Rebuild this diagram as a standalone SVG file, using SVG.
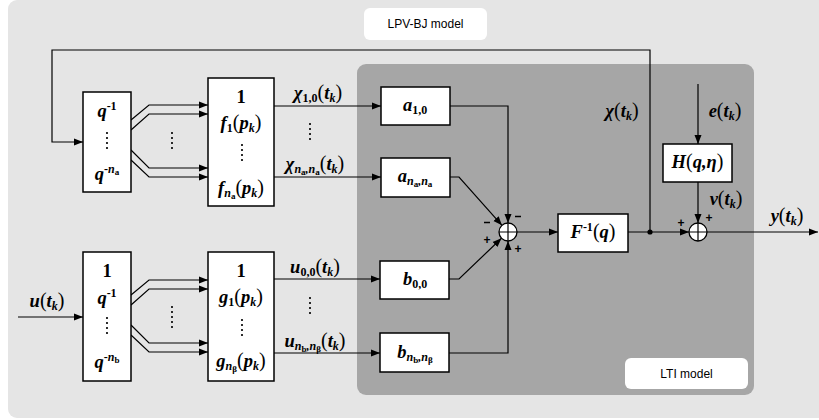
<svg xmlns="http://www.w3.org/2000/svg" width="819" height="420" viewBox="0 0 819 420">
<style>
.m{font-family:"Liberation Serif","DejaVu Serif",serif;font-style:italic;font-weight:bold;font-size:18.5px;fill:#000}
.u{font-style:normal}
.p{font-style:normal;font-weight:normal;font-size:20px}
.sn{font-style:normal;font-size:12px}
.si{font-style:italic;font-size:12px}
.ss{font-style:normal;font-size:9px}
.lab{font-family:"Liberation Sans",Arial,sans-serif;font-size:12px;fill:#000}
.sg{font-family:"Liberation Sans",Arial,sans-serif;font-weight:bold;font-size:12px;fill:#000}
.box{fill:#fff;stroke:#000;stroke-width:1.5}
.c{fill:none;stroke:#000;stroke-width:1.2}
.dots{fill:none;stroke:#000;stroke-width:2.2;stroke-linecap:round;stroke-dasharray:0 5}
</style>
<defs>
<marker id="ar" markerUnits="userSpaceOnUse" markerWidth="10" markerHeight="8" refX="9" refY="4" orient="auto">
<path d="M0,0.5 L9,4 L0,7.5 Z" fill="#000"/>
</marker>
</defs>
<rect x="8" y="0" width="830" height="418" rx="9" fill="#e5e5e5"/>
<rect x="357" y="64" width="397" height="331" rx="9" fill="#a6a6a6"/>
<g id="lpv-label"><rect x="364" y="8" width="123" height="32" rx="6" fill="#fff"/><text class="lab" x="425.5" y="28" text-anchor="middle">LPV-BJ model</text></g>
<g id="lti-label"><rect x="625" y="358" width="123" height="31" rx="6" fill="#fff"/><text class="lab" x="686.5" y="378" text-anchor="middle">LTI model</text></g>

<g id="connectors">
<path class="c" d="M650,232 V50 H52 V142 H83" marker-end="url(#ar)"/>
<path class="c" d="M18,317 H83" marker-end="url(#ar)"/>
<path class="c" d="M131,120 L149,105 H208" marker-end="url(#ar)"/>
<path class="c" d="M131,130 L149,114 H208" marker-end="url(#ar)"/>
<path class="c" d="M131,150 L149,168 H208" marker-end="url(#ar)"/>
<path class="c" d="M131,160 L149,177 H208" marker-end="url(#ar)"/>
<path class="c" d="M131,295 L149,280 H208" marker-end="url(#ar)"/>
<path class="c" d="M131,305 L149,289 H208" marker-end="url(#ar)"/>
<path class="c" d="M131,325 L149,343 H208" marker-end="url(#ar)"/>
<path class="c" d="M131,335 L149,352 H208" marker-end="url(#ar)"/>
<path class="c" d="M274,106 H381" marker-end="url(#ar)"/>
<path class="c" d="M274,177 H381" marker-end="url(#ar)"/>
<path class="c" d="M274,279 H380" marker-end="url(#ar)"/>
<path class="c" d="M274,353 H380" marker-end="url(#ar)"/>
<path class="c" d="M450,106 H508 V223" marker-end="url(#ar)"/>
<path class="c" d="M450,177 H459 L502,225.3" marker-end="url(#ar)"/>
<path class="c" d="M449,279 H459 L501.5,238.2" marker-end="url(#ar)"/>
<path class="c" d="M449,353 H508 V241" marker-end="url(#ar)"/>
<path class="c" d="M517,232 H558" marker-end="url(#ar)"/>
<path class="c" d="M628,232 H689" marker-end="url(#ar)"/>
<path class="c" d="M698,84 V144" marker-end="url(#ar)"/>
<path class="c" d="M698,182 V223" marker-end="url(#ar)"/>
<path class="c" d="M707,232 H818" marker-end="url(#ar)"/>
<circle cx="650" cy="232" r="2.6" fill="#000"/>
<path class="dots" d="M172,133 V153 M172,307 V328 M310,124 V144 M310,298 V318"/>
</g>

<g id="qa">
<rect class="box" x="83" y="92" width="48" height="100"/>
<text class="m" x="107" y="117" text-anchor="middle">q<tspan class="sn" dy="-7">-1</tspan></text>
<path class="dots" d="M107,133 V153"/>
<text class="m" x="107" y="180" text-anchor="middle">q<tspan class="sn" dy="-7">-</tspan><tspan class="si">n</tspan><tspan class="ss" dy="2">a</tspan></text>
</g>

<g id="f">
<rect class="box" x="208" y="78" width="66" height="128"/>
<text class="m u" x="241" y="103" text-anchor="middle">1</text>
<text class="m" x="241" y="129" text-anchor="middle">f<tspan class="sn" dy="3">1</tspan><tspan class="p" dy="-3">(</tspan>p<tspan class="si" dy="3">k</tspan><tspan class="p" dy="-3">)</tspan></text>
<path class="dots" d="M242,145 V165"/>
<text class="m" x="241" y="194" text-anchor="middle">f<tspan class="si" dy="3">n</tspan><tspan class="ss" dy="2">a</tspan><tspan class="p" dy="-5">(</tspan>p<tspan class="si" dy="3">k</tspan><tspan class="p" dy="-3">)</tspan></text>
</g>

<g id="qb">
<rect class="box" x="83" y="252" width="48" height="129"/>
<text class="m u" x="107" y="277" text-anchor="middle">1</text>
<text class="m" x="107" y="304" text-anchor="middle">q<tspan class="sn" dy="-7">-1</tspan></text>
<path class="dots" d="M107,318 V338"/>
<text class="m" x="107" y="368" text-anchor="middle">q<tspan class="sn" dy="-7">-</tspan><tspan class="si">n</tspan><tspan class="ss" dy="2">b</tspan></text>
</g>

<g id="g">
<rect class="box" x="208" y="252" width="66" height="129"/>
<text class="m u" x="241" y="277" text-anchor="middle">1</text>
<text class="m" x="241" y="303" text-anchor="middle">g<tspan class="sn" dy="3">1</tspan><tspan class="p" dy="-3">(</tspan>p<tspan class="si" dy="3">k</tspan><tspan class="p" dy="-3">)</tspan></text>
<path class="dots" d="M242,320 V340"/>
<text class="m" x="241" y="367" text-anchor="middle">g<tspan class="si" dy="3">n</tspan><tspan class="ss" dy="2">β</tspan><tspan class="p" dy="-5">(</tspan>p<tspan class="si" dy="3">k</tspan><tspan class="p" dy="-3">)</tspan></text>
</g>

<g id="signal-labels">
<text class="m" x="318" y="99" text-anchor="middle">χ<tspan class="sn" dy="3">1,0</tspan><tspan class="p" dy="-3">(</tspan>t<tspan class="si" dy="3">k</tspan><tspan class="p" dy="-3">)</tspan></text>
<text class="m" x="315" y="170" text-anchor="middle">χ<tspan class="si" dy="3">n</tspan><tspan class="ss" dy="2">a</tspan><tspan class="si" dy="-2">,n</tspan><tspan class="ss" dy="2">a</tspan><tspan class="p" dy="-5">(</tspan>t<tspan class="si" dy="3">k</tspan><tspan class="p" dy="-3">)</tspan></text>
<text class="m" x="315" y="273" text-anchor="middle">u<tspan class="sn" dy="3">0,0</tspan><tspan class="p" dy="-3">(</tspan>t<tspan class="si" dy="3">k</tspan><tspan class="p" dy="-3">)</tspan></text>
<text class="m" x="315" y="347" text-anchor="middle">u<tspan class="si" dy="3">n</tspan><tspan class="ss" dy="2">b</tspan><tspan class="si" dy="-2">,n</tspan><tspan class="ss" dy="2">β</tspan><tspan class="p" dy="-5">(</tspan>t<tspan class="si" dy="3">k</tspan><tspan class="p" dy="-3">)</tspan></text>
<text class="m" x="47" y="307" text-anchor="middle">u<tspan class="p">(</tspan>t<tspan class="si" dy="3">k</tspan><tspan class="p" dy="-3">)</tspan></text>
<text class="m" x="622" y="117" text-anchor="middle">χ<tspan class="p">(</tspan>t<tspan class="si" dy="3">k</tspan><tspan class="p" dy="-3">)</tspan></text>
<text class="m" x="725" y="117" text-anchor="middle">e<tspan class="p">(</tspan>t<tspan class="si" dy="3">k</tspan><tspan class="p" dy="-3">)</tspan></text>
<text class="m" x="726" y="205" text-anchor="middle">v<tspan class="p">(</tspan>t<tspan class="si" dy="3">k</tspan><tspan class="p" dy="-3">)</tspan></text>
<text class="m" x="787" y="222" text-anchor="middle">y<tspan class="p">(</tspan>t<tspan class="si" dy="3">k</tspan><tspan class="p" dy="-3">)</tspan></text>
</g>

<g id="a10"><rect class="box" x="381" y="87" width="69" height="38"/>
<text class="m" x="415" y="111" text-anchor="middle">a<tspan class="sn" dy="3">1,0</tspan></text></g>
<g id="anana"><rect class="box" x="381" y="158" width="69" height="39"/>
<text class="m" x="415" y="182" text-anchor="middle">a<tspan class="si" dy="3">n</tspan><tspan class="ss" dy="2">a</tspan><tspan class="si" dy="-2">,n</tspan><tspan class="ss" dy="2">a</tspan></text></g>
<g id="b00"><rect class="box" x="380" y="261" width="69" height="38"/>
<text class="m" x="415" y="285" text-anchor="middle">b<tspan class="sn" dy="3">0,0</tspan></text></g>
<g id="bnbnb"><rect class="box" x="380" y="333" width="69" height="39"/>
<text class="m" x="415" y="358" text-anchor="middle">b<tspan class="si" dy="3">n</tspan><tspan class="ss" dy="2">b</tspan><tspan class="si" dy="-2">,n</tspan><tspan class="ss" dy="2">β</tspan></text></g>

<g id="sum1">
<circle cx="508" cy="232" r="9" fill="#fff" stroke="#000" stroke-width="1.3"/>
<path d="M499,232 H517 M508,223 V241" stroke="#000" stroke-width="1.2"/>
<path d="M484,222.5 H490 M515,216.5 H521" stroke="#000" stroke-width="1.6"/>
<text class="sg" x="487" y="244" text-anchor="middle">+</text>
<text class="sg" x="518" y="253" text-anchor="middle">+</text>
</g>

<g id="F"><rect class="box" x="558" y="214" width="70" height="38"/>
<text class="m" x="593" y="238" text-anchor="middle">F<tspan class="sn" dy="-7">-1</tspan><tspan class="p" dy="7">(</tspan>q<tspan class="p">)</tspan></text></g>

<g id="H"><rect class="box" x="663" y="144" width="69" height="38"/>
<text class="m" x="697.5" y="168" text-anchor="middle">H<tspan class="p">(</tspan>q,η<tspan class="p">)</tspan></text></g>

<g id="sum2">
<circle cx="698" cy="232" r="9" fill="#fff" stroke="#000" stroke-width="1.3"/>
<path d="M689,232 H707 M698,223 V241" stroke="#000" stroke-width="1.2"/>
<text class="sg" x="681" y="227" text-anchor="middle">+</text>
<text class="sg" x="709" y="222" text-anchor="middle">+</text>
</g>
</svg>
